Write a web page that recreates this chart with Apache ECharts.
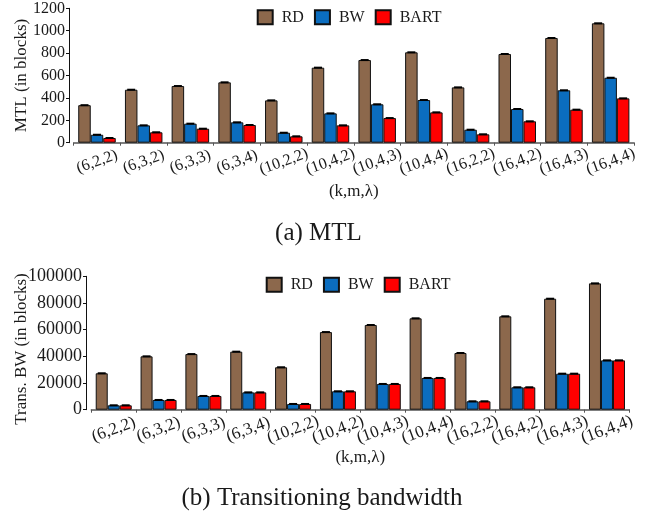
<!DOCTYPE html>
<html>
<head>
<meta charset="utf-8">
<script src="https://cdn.jsdelivr.net/npm/echarts@6/dist/echarts.min.js"></script>
<style>
html,body{margin:0;padding:0;background:#fff;}
#c{width:648px;height:517px;}
</style>
</head>
<body>
<div id="c"></div>
<script>
const categories = ['(6,2,2)','(6,3,2)','(6,3,3)','(6,3,4)','(10,2,2)','(10,4,2)','(10,4,3)','(10,4,4)','(16,2,2)','(16,4,2)','(16,4,3)','(16,4,4)'];
const seriesNames = ['RD','BW','BART'];
const mtlRD   = [335, 473, 506, 539, 378, 670, 738, 807, 494, 792, 935, 1066];
const mtlBW   = [71, 155, 170, 182, 89, 262, 343, 381, 116, 301, 468, 580];
const mtlBART = [42, 93, 125, 158, 57, 155, 220, 271, 75, 191, 295, 396];
const bwRD    = [27300, 40000, 41700, 43500, 31800, 58200, 63500, 68500, 42500, 70000, 83200, 94700];
const bwBW    = [3300, 7300, 10300, 13000, 4300, 13800, 19300, 23800, 6300, 16800, 27000, 37000];
const bwBART  = [3300, 7300, 10300, 13000, 4300, 13800, 19300, 23800, 6300, 16800, 27000, 37000];
const mtlTicks = [0, 200, 400, 600, 800, 1000, 1200];
const bwTicks  = [0, 20000, 40000, 60000, 80000, 100000];
const xName = '(k,m,λ)';
const captionA = '(a) MTL';
const captionB = '(b) Transitioning bandwidth';
const yNameA = 'MTL (in blocks)';
const yNameB = 'Trans. BW (in blocks)';

const colors = ['#8c684c', '#0b6dbf', '#ff0000'];
const FONT = '"Liberation Serif", "Times New Roman", serif';
const TXT = '#1a1a1a';

function barSeries(name, data, idx, bw) {
  return {
    name: name, type: 'bar', data: data,
    xAxisIndex: idx, yAxisIndex: idx,
    barWidth: bw, barGap: '0%',
    itemStyle: { color: colors[seriesNames.indexOf(name)], borderColor: '#111', borderWidth: 1 },
    emphasis: { disabled: true },
    animation: false
  };
}
function capSeries(arrs, idx, bw) {
  const data = [];
  arrs.forEach((a, s) => a.forEach((v, i) => data.push([i, v, s])));
  return {
    type: 'custom', xAxisIndex: idx, yAxisIndex: idx, data: data, z: 5,
    silent: true, animation: false,
    renderItem: function (params, api) {
      const p = api.coord([api.value(0), api.value(1)]);
      const x = p[0] + (api.value(2) - 1) * bw;
      return { type: 'line', shape: { x1: x - 4, y1: p[1], x2: x + 4, y2: p[1] },
               style: { stroke: '#000', lineWidth: 2 } };
    }
  };
}
function xAx(idx, fs, margin, gap) {
  return {
    type: 'category', gridIndex: idx, data: categories,
    boundaryGap: true,
    axisLine: { lineStyle: { color: '#555', width: 1.5 } },
    axisTick: { show: true, length: 3, alignWithLabel: false, lineStyle: { color: '#555' } },
    axisLabel: { rotate: 20, align: 'center', verticalAlign: 'middle', margin: margin,
                 fontFamily: FONT, fontSize: fs, color: TXT, interval: 0, hideOverlap: false },
    name: xName, nameLocation: 'middle', nameGap: gap,
    nameTextStyle: { fontFamily: FONT, fontSize: 17, color: TXT },
    splitLine: { show: false }
  };
}
function yAx(idx, ticks, fs, off, name, gap, pad) {
  return {
    type: 'value', gridIndex: idx, min: ticks[0], max: ticks[ticks.length - 1],
    interval: ticks[1] - ticks[0], offset: off,
    axisLine: { show: true, lineStyle: { color: '#111', width: 1 } },
    axisTick: { show: true, length: 3, lineStyle: { color: '#111' } },
    axisLabel: { fontFamily: FONT, fontSize: fs, color: TXT, margin: 4,
                 formatter: function (v) { return String(v); } },
    splitLine: { show: false },
    name: name, nameLocation: 'middle', nameRotate: 90, nameGap: gap,
    nameMoveOverlap: false,
    nameTextStyle: { fontFamily: FONT, fontSize: 17, color: TXT, padding: pad }
  };
}
function legend(idx, left, top) {
  return {
    left: left, top: top, padding: 0, itemGap: 10,
    itemWidth: 15, itemHeight: 14, icon: 'rect', data: seriesNames,
    selectedMode: false,
    textStyle: { fontFamily: FONT, fontSize: 16, color: TXT, padding: [0, 0, 0, 4] }
  };
}

const chart = echarts.init(document.getElementById('c'), null, { renderer: 'canvas' });
chart.setOption({
  animation: false,
  backgroundColor: '#fff',
  grid: [
    { left: 73.65, right: 14, top: 8.3, height: 134.4, containLabel: false, outerBoundsMode: 'none' },
    { left: 91.3, right: 18.6, top: 276.3, height: 133.4, containLabel: false, outerBoundsMode: 'none' }
  ],
  xAxis: [xAx(0, 16, 19, 40), xAx(1, 17, 20, 37)],
  yAxis: [yAx(0, mtlTicks, 16, 4.65, yNameA, 39, [0, 0, 0, 0]),
          yAx(1, bwTicks, 18, 5.3, yNameB, 56, [0, 12, 0, 0])],
  legend: [legend(0, 256.7, 9.3), legend(1, 265.7, 276.7)],
  series: [
    barSeries('RD', mtlRD, 0, 12.5),
    barSeries('BW', mtlBW, 0, 12.5),
    barSeries('BART', mtlBART, 0, 12.5),
    barSeries('RD', bwRD, 1, 12),
    barSeries('BW', bwBW, 1, 12),
    barSeries('BART', bwBART, 1, 12),
    capSeries([mtlRD, mtlBW, mtlBART], 0, 12.5),
    capSeries([bwRD, bwBW, bwBART], 1, 12)
  ],
  graphic: [
    { type: 'text', x: 318.5, y: 233, style: { text: captionA, fontFamily: FONT, fontSize: 25, fill: TXT, align: 'center', verticalAlign: 'middle' } },
    { type: 'text', x: 322, y: 498, style: { text: captionB, fontFamily: FONT, fontSize: 25, fill: TXT, align: 'center', verticalAlign: 'middle' } }
  ]
});
</script>
</body>
</html>
